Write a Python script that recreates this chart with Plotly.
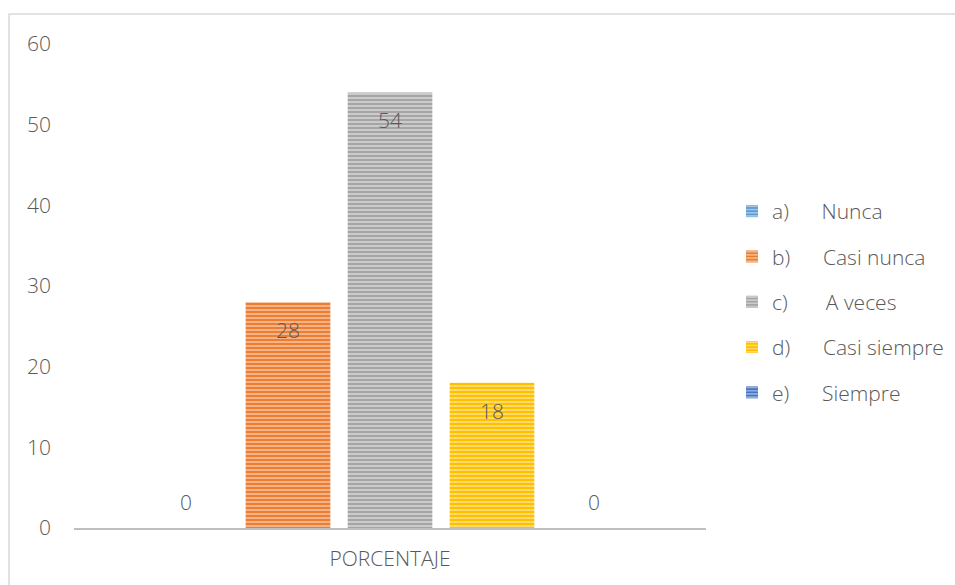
import plotly.graph_objects as go

categories = ["PORCENTAJE"]
series_names = ["a)\u00a0\u00a0\u00a0\u00a0\u00a0\u00a0Nunca",
                "b)\u00a0\u00a0\u00a0\u00a0\u00a0\u00a0Casi nunca",
                "c)\u00a0\u00a0\u00a0\u00a0\u00a0\u00a0\u00a0A veces",
                "d)\u00a0\u00a0\u00a0\u00a0\u00a0\u00a0Casi siempre",
                "e)\u00a0\u00a0\u00a0\u00a0\u00a0\u00a0Siempre"]
values = [0, 28, 54, 18, 0]
colors = ["#5B9BD5", "#ED7D31", "#A5A5A5", "#FFC000", "#4472C4"]
y_ticks = [0, 10, 20, 30, 40, 50, 60]

FONT = "Open Sans"
WT = 300
TXT = "#595959"
W, H = 955, 585
L, R, T, B = 74, 249, 44, 57
plot_w = W - L - R
bargap = 0.193
slot = plot_w * (1 - bargap) / len(values)

fig = go.Figure()
for i, (name, v, c) in enumerate(zip(series_names, values, colors)):
    fig.add_trace(go.Bar(
        x=categories, y=[v], name=name, legendgroup=f"g{i}",
        marker=dict(color=c, line=dict(width=0),
                    pattern=dict(shape="-", fgcolor="white", fgopacity=0.6,
                                 size=4, solidity=0.35)),
        hoverinfo="skip",
    ))
    fig.add_annotation(
        x=categories[0], y=v, xref="x", yref="y",
        text=str(v), showarrow=False,
        xshift=(i - (len(values) - 1) / 2) * slot,
        yshift=(26 if v == 0 else -28),
        font=dict(family=FONT, size=21, color=TXT, weight=WT),
    )

# chart border
fig.add_shape(type="rect", xref="paper", yref="paper",
              x0=(9 - L) / plot_w, x1=(W + 5 - L) / plot_w,
              y0=-(H + 5 - (H - B)) / (H - T - B), y1=1 + (T - 14) / (H - T - B),
              line=dict(color="#D9D9D9", width=1.5), fillcolor="rgba(0,0,0,0)",
              layer="below")

fig.update_layout(
    width=W, height=H,
    margin=dict(l=L, r=R, t=T, b=B, autoexpand=False),
    paper_bgcolor="white", plot_bgcolor="white",
    barmode="group", bargap=bargap, bargroupgap=0.17,
    font=dict(family=FONT, size=21, color=TXT, weight=WT),
    showlegend=True,
    legend=dict(xref="container", yref="container",
                x=732 / W, y=1 - 302 / H, xanchor="left", yanchor="middle",
                font=dict(family=FONT, size=21, color=TXT, weight=WT),
                tracegroupgap=15, itemwidth=30,
                bgcolor="rgba(0,0,0,0)"),
    xaxis=dict(showline=True, linecolor="#BFBFBF", linewidth=2,
               showgrid=False, ticks="", ticklabelstandoff=11,
               tickfont=dict(family=FONT, size=21, color=TXT, weight=WT),
               fixedrange=True),
    yaxis=dict(range=[0, 60], tickvals=y_ticks, showgrid=False,
               showline=False, zeroline=False, ticks="",
               ticklabelstandoff=22,
               tickfont=dict(family=FONT, size=21, color=TXT, weight=WT)),
)

fig.write_html("out.html")
